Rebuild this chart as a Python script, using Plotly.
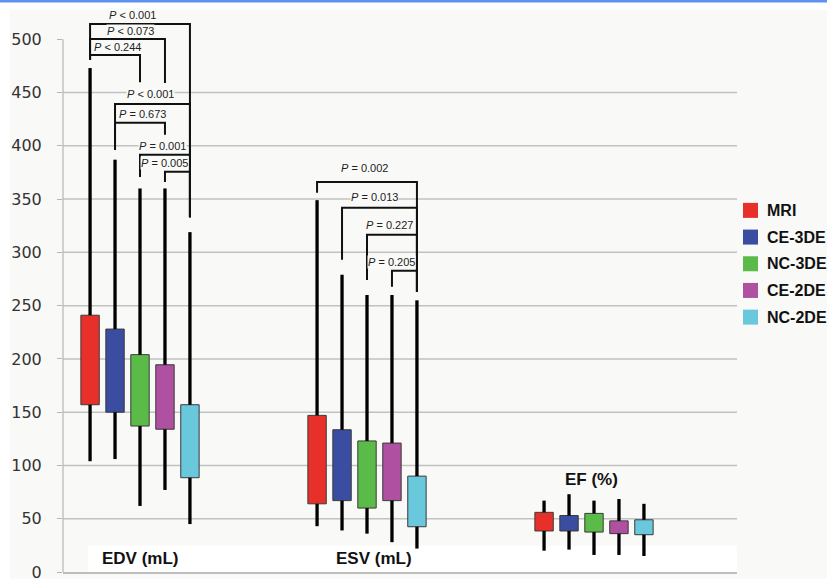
import plotly.graph_objects as go

# ---------------- data ----------------
groups = ["EDV (mL)", "ESV (mL)", "EF (%)"]
methods = ["MRI", "CE-3DE", "NC-3DE", "CE-2DE", "NC-2DE"]
colors = ["#e8302a", "#3b4da0", "#5bbb48", "#b050a0", "#6ac8dc"]

# values per method for [EDV, ESV, EF]
whisker_low = {
    "MRI": [104, 43, 20],
    "CE-3DE": [106, 39, 21],
    "NC-3DE": [62, 36, 16],
    "CE-2DE": [77, 28, 16],
    "NC-2DE": [45, 22, 15],
}
box_low = {
    "MRI": [157, 64, 38.5],
    "CE-3DE": [150, 67, 38.5],
    "NC-3DE": [137, 60, 37.5],
    "CE-2DE": [134, 67, 36],
    "NC-2DE": [88.5, 42.5, 35],
}
box_high = {
    "MRI": [241, 147, 56],
    "CE-3DE": [228, 133.5, 53],
    "NC-3DE": [204, 123, 55],
    "CE-2DE": [194.5, 121, 48],
    "NC-2DE": [157, 90, 49],
}
whisker_high = {
    "MRI": [473, 349, 67],
    "CE-3DE": [387, 279, 73],
    "NC-3DE": [360, 260, 67],
    "CE-2DE": [360, 260, 68.5],
    "NC-2DE": [319, 255, 64],
}

# comparisons: (group index, method i, method j, label)
comparisons = [
    (0, 0, 4, "P < 0.001"),
    (0, 0, 3, "P < 0.073"),
    (0, 0, 2, "P < 0.244"),
    (0, 1, 4, "P < 0.001"),
    (0, 1, 3, "P = 0.673"),
    (0, 2, 4, "P = 0.001"),
    (0, 3, 4, "P = 0.005"),
    (1, 0, 4, "P = 0.002"),
    (1, 1, 4, "P = 0.013"),
    (1, 2, 4, "P = 0.227"),
    (1, 3, 4, "P = 0.205"),
]
# bracket layout: (level, left leg end, right leg end, label x offset, label y)
bracket_layout = [
    (514.4, 480.8, 333, -0.031, 522.8),
    (500.3, 480.8, 459, -0.044, 507.8),
    (485.3, 480.8, 459.6, -0.097, 492.8),
    (439.3, 396, 333, 0.048, 448.2),
    (421.6, 396, 410.4, 0.013, 429.5),
    (391.6, 370.8, 333, 0.097, 399.9),
    (375.6, 366, 333, 0.110, 383.5),
    (366, 356, 263, -0.009, 378.8),
    (341.8, 293, 263, 0.031, 351.6),
    (316.5, 274, 263, 0.099, 325.8),
    (282.7, 267.8, 263, 0.110, 290.6),
]
group_label_pos = [(0.0, 13), (1.03, 13), (1.99, 87)]
y_ticks = [0, 50, 100, 150, 200, 250, 300, 350, 400, 450, 500]
grid_vals = [50, 100, 150, 200, 250, 300, 350, 400, 450]

# ---------------- geometry ----------------
W, H = 827, 579
ML, MR, MT, MB = 63, 90, 10, 6.7
PW, PH = W - ML - MR, H - MT - MB
YMAX = PH / 1.066
pitch, bw = 0.110, 0.081


def px_x(p):
    return (p - ML) / PW


def px_y(p):
    return (H - MB - p) / PH


def mx(g, k):
    return g + (k - 2) * pitch


fig = go.Figure()

for k, m in enumerate(methods):
    xs = [mx(g, k) for g in range(len(groups))]
    fig.add_trace(go.Bar(
        x=xs, base=box_low[m],
        y=[h - l for h, l in zip(box_high[m], box_low[m])],
        width=bw, name=m, showlegend=False, hoverinfo="skip",
        marker=dict(color=colors[k], line=dict(color="#3a3a3a", width=1)),
    ))
    wx, wy = [], []
    for x, lo, q1, q3, hi in zip(xs, whisker_low[m], box_low[m], box_high[m], whisker_high[m]):
        wx += [x, x, None, x, x, None]
        wy += [hi, q3, None, q1, lo, None]
    fig.add_trace(go.Scatter(x=wx, y=wy, mode="lines", showlegend=False, hoverinfo="skip",
                             line=dict(color="black", width=3.3)))

bx, by = [], []
annotations = []
for (g, i, j, lab), (lvl, le, re, lx, ly) in zip(comparisons, bracket_layout):
    xi, xj = mx(g, i), mx(g, j)
    bx += [xi, xi, xj, xj, None]
    by += [le, lvl, lvl, re, None]
    txt = "<i>P</i> " + lab[2:].replace("<", "&lt;")
    annotations.append(dict(x=g + lx, y=ly, xref="x", yref="y", text=txt, showarrow=False,
                            font=dict(family="Liberation Sans", size=11, color="#222"),
                            bgcolor="#fafaf8", borderpad=0, xanchor="center", yanchor="middle"))
fig.add_trace(go.Scatter(x=bx, y=by, mode="lines", showlegend=False, hoverinfo="skip",
                         line=dict(color="#111", width=2)))

for name, (gx, gy) in zip(groups, group_label_pos):
    annotations.append(dict(x=gx, y=gy, xref="x", yref="y", text=name, showarrow=False,
                            font=dict(family="Liberation Sans", size=17, color="#111", weight="bold"),
                            xanchor="center", yanchor="middle"))

shapes = []
# page panel and top border
shapes.append(dict(type="rect", xref="paper", yref="paper", x0=px_x(10), x1=px_x(W), y0=px_y(H), y1=px_y(10),
                   fillcolor="#f9f9f7", line_width=0, layer="below"))
shapes.append(dict(type="rect", xref="paper", yref="paper", x0=px_x(0), x1=px_x(W), y0=px_y(2.5), y1=px_y(0),
                   fillcolor="#5f92ef", line_width=0, layer="below"))
# white strip behind group labels
shapes.append(dict(type="rect", xref="paper", yref="y", x0=px_x(88), x1=1, y0=0, y1=24.6,
                   fillcolor="#ffffff", line_width=0, layer="below"))
for v in grid_vals:
    shapes.append(dict(type="line", xref="paper", yref="y", x0=0, x1=1, y0=v, y1=v,
                       line=dict(color="#c2c2c2", width=1.5), layer="below"))
shapes.append(dict(type="line", xref="paper", yref="y", x0=0, x1=0, y0=0, y1=500,
                   line=dict(color="#b5b5b5", width=1.2), layer="below"))

# legend
for k, m in enumerate(methods):
    cy = 210.5 + k * 26.7
    shapes.append(dict(type="rect", xref="paper", yref="paper",
                       x0=px_x(743), x1=px_x(758), y0=px_y(cy + 7.5), y1=px_y(cy - 7.5),
                       fillcolor=colors[k], line_width=0))
    annotations.append(dict(x=px_x(765), y=px_y(cy), xref="paper", yref="paper", text=m,
                            showarrow=False, xanchor="left", yanchor="middle",
                            font=dict(family="Liberation Sans", size=16, color="#111", weight="bold")))

fig.update_layout(
    width=W, height=H,
    margin=dict(l=ML, r=MR, t=MT, b=MB, pad=0, autoexpand=False),
    paper_bgcolor="white", plot_bgcolor="#f9f9f7",
    barmode="overlay", showlegend=False,
    shapes=shapes, annotations=annotations,
    xaxis=dict(range=[(ML - 140) / 227 + 0.0, (ML + PW - 140) / 227], showgrid=False, zeroline=False,
               automargin=False,
               showticklabels=False, showline=True, linecolor="#bdbdbd", linewidth=1.5, ticks=""),
    yaxis=dict(range=[0, YMAX], tickvals=y_ticks, showgrid=False, zeroline=False, showline=False,
               automargin=False,
               ticks="outside", ticklen=5, tickcolor="#b5b5b5", tickwidth=1.2,
               ticklabelstandoff=12, ticklabeloverflow="allow",
               tickfont=dict(family="DejaVu Sans", size=16, color="#333")),
)

fig.write_html("out.html", config={"displayModeBar": False},
               post_script="document.body.style.margin='0';document.body.style.overflow='hidden';")
